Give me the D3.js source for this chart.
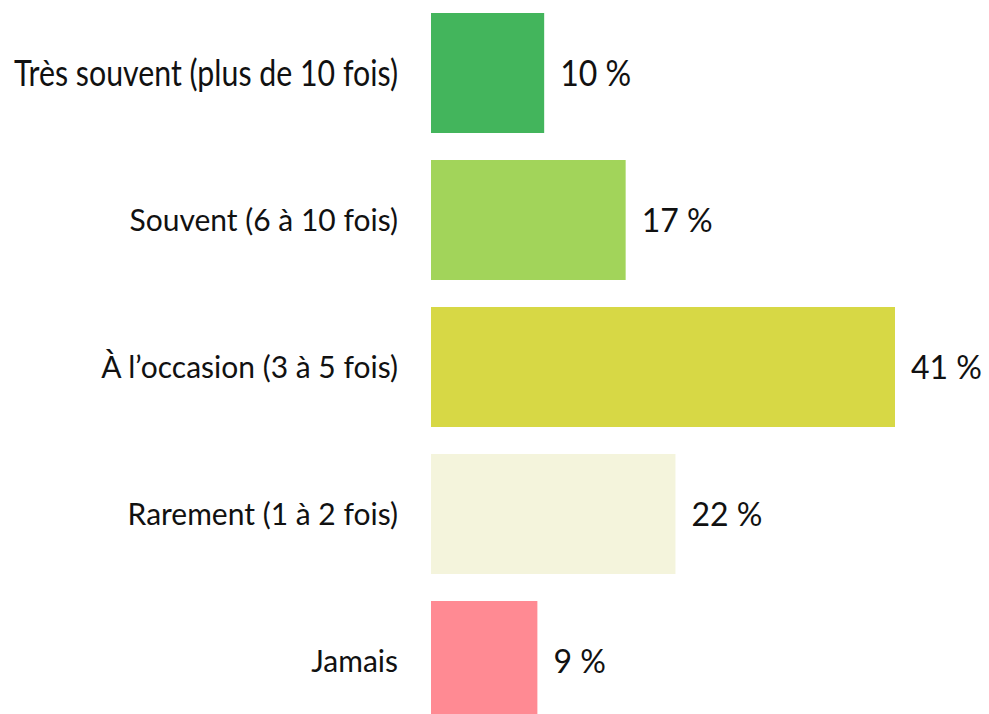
<!DOCTYPE html>
<html>
<head>
<meta charset="utf-8">
<script src="https://cdn.jsdelivr.net/npm/d3@7"></script>
<style>
  html, body { margin: 0; padding: 0; background: #fff; }
  svg { display: block; }
  text { font-family: "Lato", "Open Sans", sans-serif; fill: #111; }
</style>
</head>
<body>
<svg id="graphique" width="989" height="714"></svg>
<script>
const categories = [
  "Très souvent (plus de 10 fois)",
  "Souvent (6 à 10 fois)",
  "À l’occasion (3 à 5 fois)",
  "Rarement (1 à 2 fois)",
  "Jamais"
];
const valeurs   = [10, 17.2, 41, 21.6, 9.4];
const etiquettes = ["10 %", "17 %", "41 %", "22 %", "9 %"];
const couleurs  = ["#43b55c", "#a2d45a", "#d7d845", "#f4f4dc", "#ff8a93"];

const svg = d3.select('#graphique');

const x = d3.scaleLinear().domain([0, 41]).range([431, 895]);
const y = d3.scaleBand()
  .domain(categories)
  .range([13, 721])
  .paddingInner(0.1837)
  .paddingOuter(0);

const lignes = categories.map((c, i) => ({ cat: c, val: valeurs[i], lab: etiquettes[i], col: couleurs[i], i }));

svg.selectAll('rect.barre')
  .data(lignes)
  .join('rect')
  .attr('class', 'barre')
  .attr('x', x(0))
  .attr('y', d => y(d.cat))
  .attr('width', d => x(d.val) - x(0))
  .attr('height', y.bandwidth())
  .attr('fill', d => d.col);

// étiquettes des catégories
const cats = svg.selectAll('text.cat')
  .data(lignes)
  .join('text')
  .attr('class', 'cat')
  .attr('x', x(0) - 33)
  .attr('y', d => y(d.cat) + y.bandwidth() / 2)
  .attr('dy', '0.36em')
  .attr('text-anchor', 'end')
  .style('font-size', d => d.i === 0 ? '36px' : '30px')
  .text(d => d.cat);

// la première ligne est plus haute et tassée
cats.filter(d => d.i === 0)
  .attr('textLength', 384)
  .attr('lengthAdjust', 'spacingAndGlyphs');

const vals = svg.selectAll('text.val')
  .data(lignes)
  .join('text')
  .attr('class', 'val')
  .attr('x', d => x(d.val) + 16)
  .attr('y', d => y(d.cat) + y.bandwidth() / 2)
  .attr('dy', '0.36em')
  .style('font-size', d => d.i === 0 ? '37px' : '32px')
  .text(d => d.lab);

vals.filter(d => d.i === 0)
  .attr('textLength', 71)
  .attr('lengthAdjust', 'spacingAndGlyphs');
</script>
</body>
</html>
